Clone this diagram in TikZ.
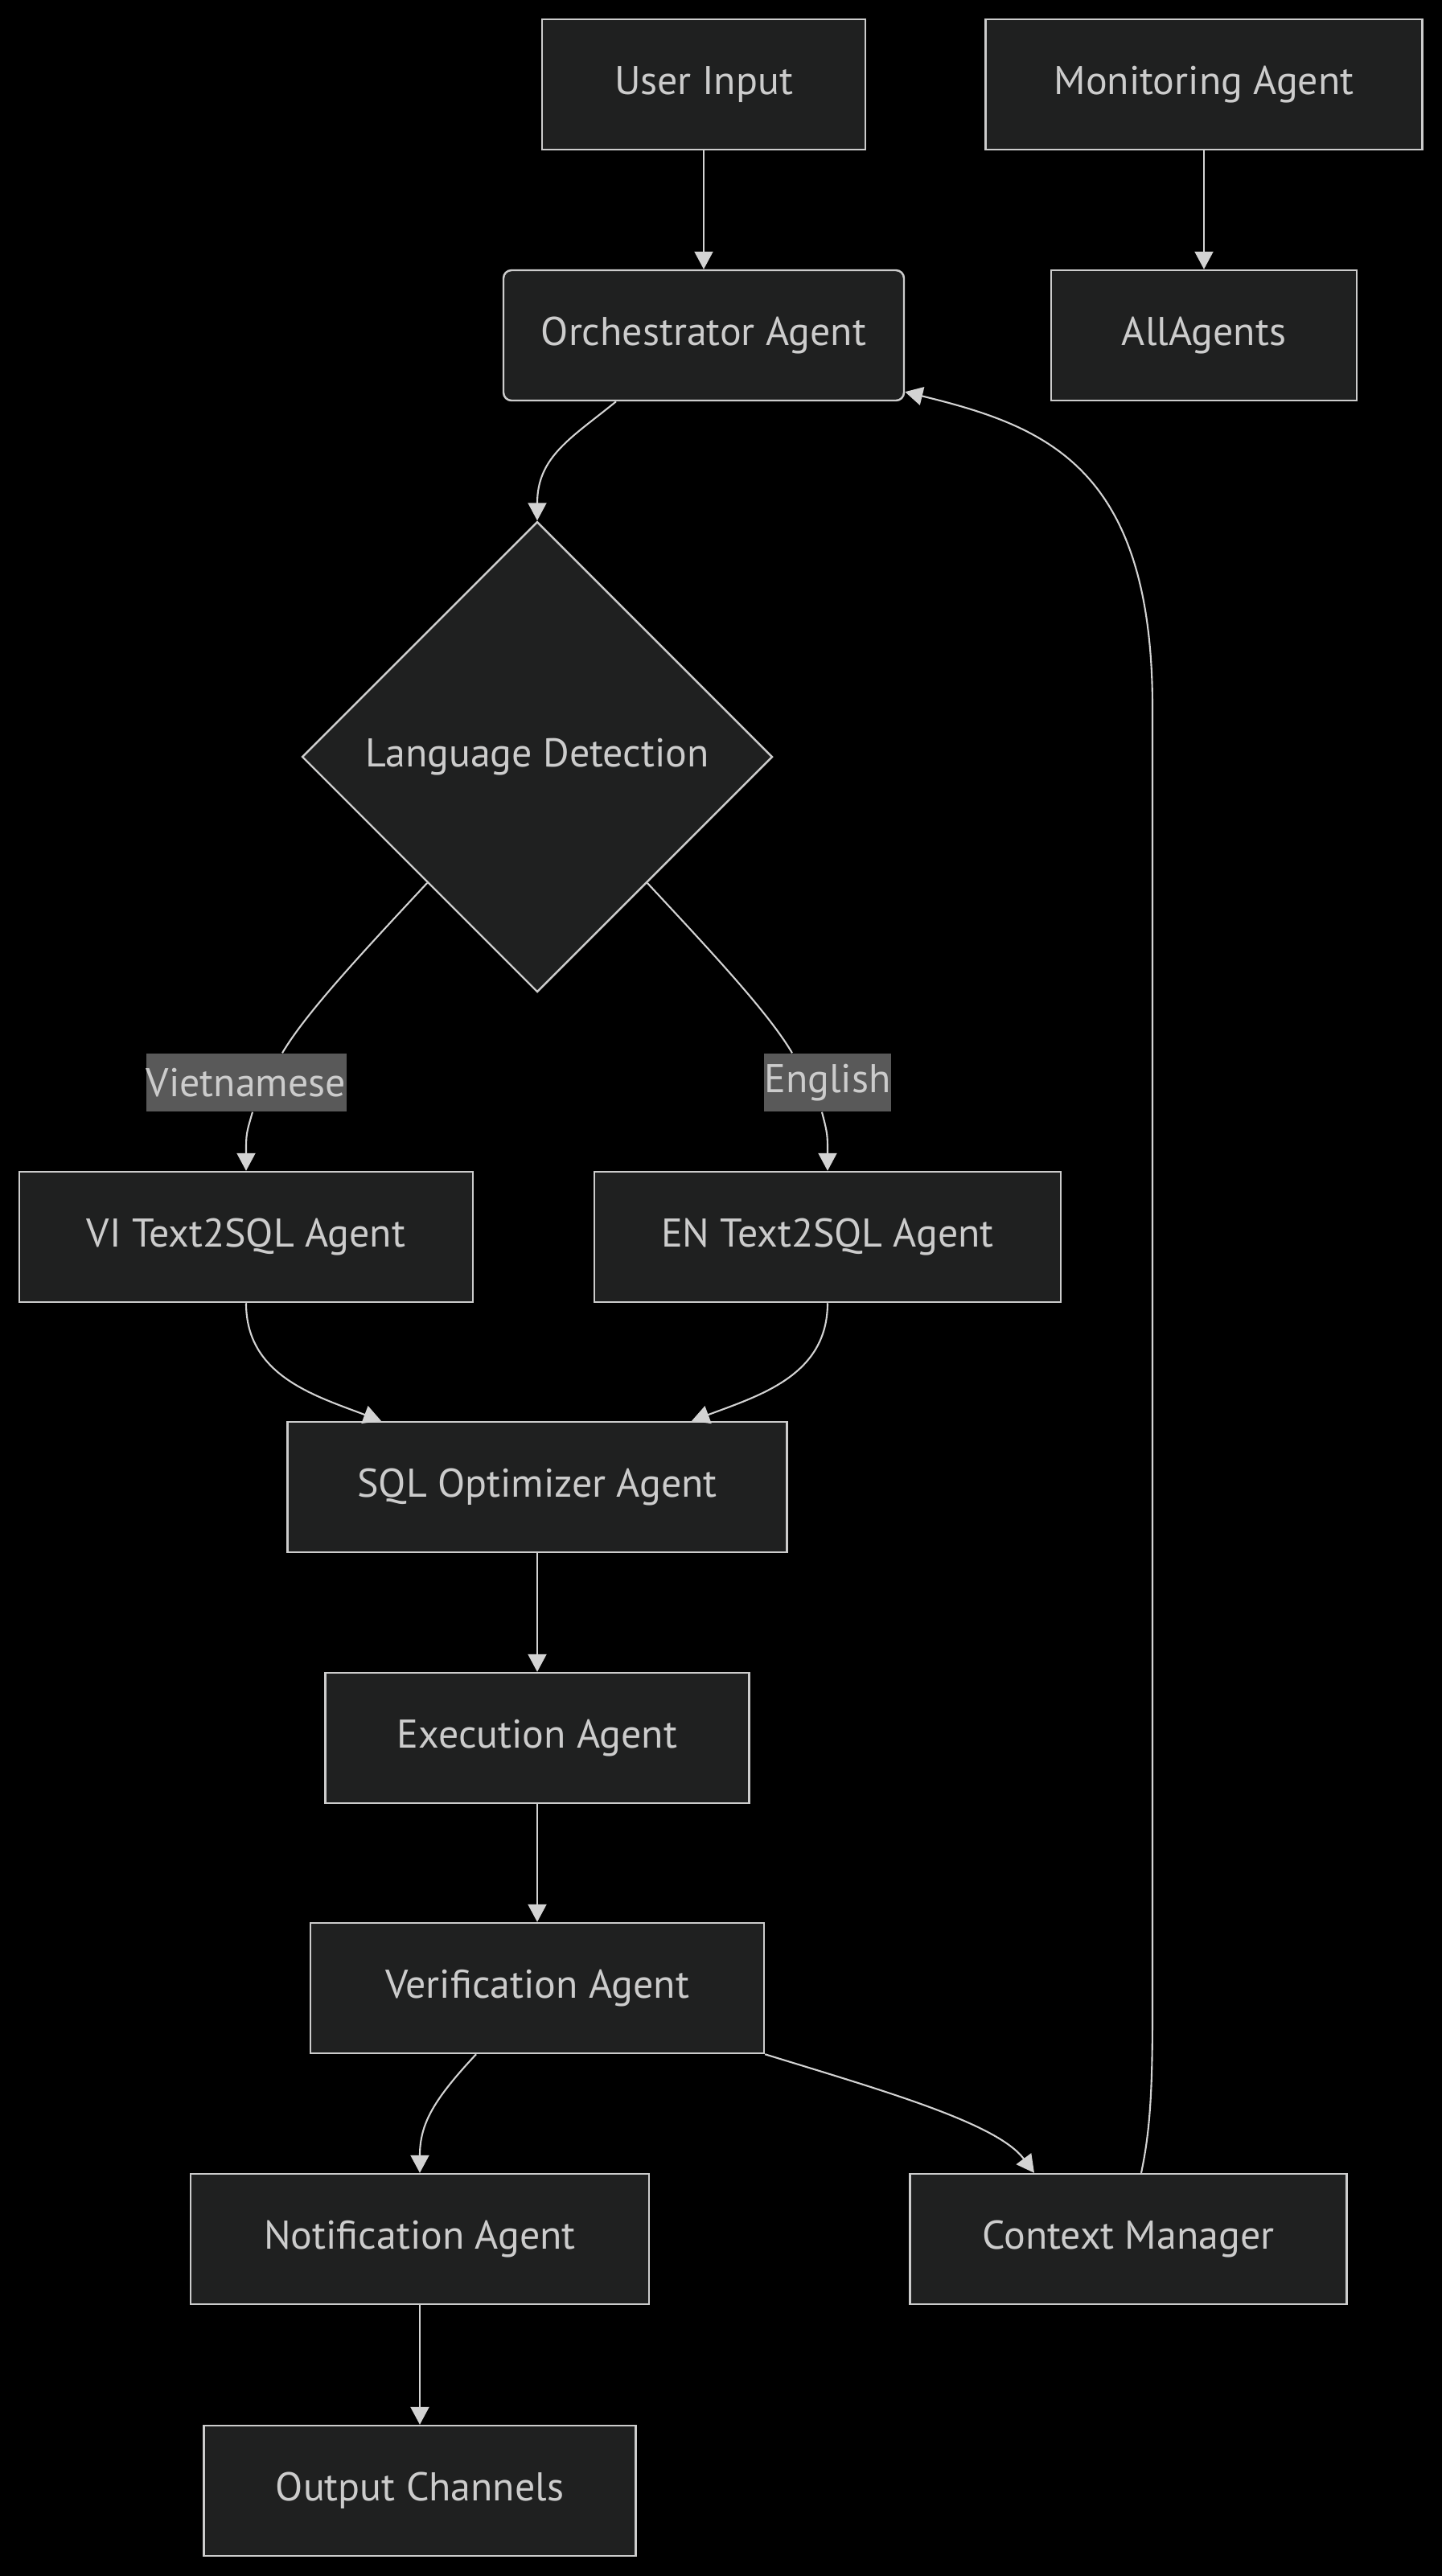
\documentclass[tikz,border=0pt]{standalone}
\usepackage{fontspec}
\setmainfont{PT Sans}
\usepackage{xcolor}
\usepackage{tikz}
\usetikzlibrary{shapes.geometric, arrows.meta}
\definecolor{nodefill}{HTML}{1F2020}
\definecolor{nodeline}{HTML}{CCCCCC}
\definecolor{labelfill}{HTML}{595959}
\definecolor{edgeline}{HTML}{D3D3D3}
\tikzstyle{process} = [rectangle, minimum height=1.62cm, text centered, draw=nodeline, fill=nodefill, line width=0.7pt, text=nodeline, inner sep=0pt]
\tikzstyle{decision} = [diamond, aspect=1, minimum width=5.85cm, minimum height=5.85cm, inner sep=0pt, text centered, draw=nodeline, fill=nodefill, line width=0.7pt, text=nodeline]
\tikzstyle{edgelabel} = [rectangle, fill=labelfill, text=nodeline, minimum height=0.72cm, inner sep=0pt]
\tikzstyle{arrow} = [draw=edgeline, line width=0.6pt, ->, >={Triangle[length=0.22cm, width=0.23cm]}]

\begin{document}
\begin{tikzpicture}[font=\fontsize{14.2}{17}\selectfont]
   \fill[black] (0,0) rectangle (17.93,-32.03);
   \useasboundingbox (0,0) rectangle (17.93,-32.03);
   % top row
   \node (ui) [process, minimum width=4.02cm] at (8.75,-1.05) {User Input};
   \node (mon) [process, minimum width=5.43cm] at (14.97,-1.05) {Monitoring Agent};
   \node (orch) [process, rounded corners=0.1cm, minimum width=4.98cm] at (8.75,-4.17) {Orchestrator Agent};
   \node (all) [process, minimum width=3.80cm] at (14.97,-4.17) {AllAgents};
   \node (lang) [decision] at (6.68,-9.41) {Language Detection};
   % text2sql branches
   \node (vi) [process, minimum width=5.64cm] at (3.06,-15.38) {VI Text2SQL Agent};
   \node (en) [process, minimum width=5.80cm] at (10.29,-15.38) {EN Text2SQL Agent};
   \node (opt) [process, minimum width=6.21cm] at (6.68,-18.49) {SQL Optimizer Agent};
   \node (exec) [process, minimum width=5.27cm] at (6.68,-21.61) {Execution Agent};
   \node (ver) [process, minimum width=5.64cm] at (6.68,-24.72) {Verification Agent};
   \node (notif) [process, minimum width=5.70cm] at (5.22,-27.84) {Notification Agent};
   \node (ctx) [process, minimum width=5.43cm] at (14.03,-27.84) {Context Manager};
   \node (out) [process, minimum width=5.37cm] at (5.22,-30.97) {Output Channels};
   \node (vil) [edgelabel, minimum width=2.49cm] at (3.06,-13.46) {Vietnamese};
   \node (enl) [edgelabel, minimum width=1.50cm] at (10.29,-13.46) {English};

   \draw [arrow] (ui) -- (orch);
   \draw [arrow] (mon) -- (all);
   \draw [arrow] ([xshift=-1.09cm]orch.south) .. controls +(-0.55,-0.45) and +(0,0.8) .. (lang.north);
   \draw [arrow, -] ([shift={(0.1,-0.1)}]lang.south west) .. controls (4.5,-11.85) and (3.8,-12.6) .. ([xshift=0.45cm]vil.north);
   \draw [arrow] ([xshift=0.08cm]vil.south) .. controls (3.06,-14.1) .. (vi.north);
   \draw [arrow, -] ([shift={(-0.1,-0.1)}]lang.south east) .. controls (8.86,-11.85) and (9.56,-12.6) .. ([xshift=-0.44cm]enl.north);
   \draw [arrow] ([xshift=-0.07cm]enl.south) .. controls (10.29,-14.1) .. (en.north);
   \draw [arrow] (vi.south) .. controls (3.06,-17.1) and (3.9,-17.35) .. ([xshift=-1.94cm]opt.north);
   \draw [arrow] (en.south) .. controls (10.29,-17.1) and (9.45,-17.35) .. ([xshift=1.92cm]opt.north);
   \draw [arrow] (opt) -- (exec);
   \draw [arrow] (exec) -- (ver);
   \draw [arrow] ([xshift=-0.76cm]ver.south) .. controls (5.4,-26.1) and (5.22,-26.4) .. (notif.north);
   \draw [arrow] (ver.south east) .. controls (11.0,-26.0) and (12.4,-26.4) .. ([xshift=-1.17cm]ctx.north);
   \draw [arrow] (notif) -- (out);
   \draw [arrow] ([xshift=0.16cm]ctx.north) .. controls (14.3,-26.5) and (14.33,-26.0) .. (14.33,-25.0)
      -- (14.33,-8.8) .. controls (14.33,-5.8) and (13.0,-5.3) .. ([yshift=0.12cm]orch.south east);
\end{tikzpicture}
\end{document}
